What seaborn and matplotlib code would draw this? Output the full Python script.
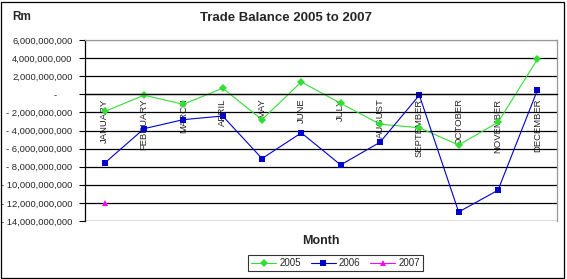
import matplotlib
matplotlib.use("Agg")
import matplotlib.pyplot as plt
import matplotlib.ticker as mticker
from matplotlib.patches import Rectangle
import numpy as np
import pandas as pd
import seaborn as sns

months = ["JANUARY", "FEBRUARY", "MARCH", "APRIL", "MAY", "JUNE", "JULY",
          "AUGUST", "SEPTEMBER", "OCTOBER", "NOVEMBER", "DECEMBER"]
y2005 = [-1.9e9, -0.1e9, -1.1e9, 0.67e9, -2.8e9, 1.37e9, -1.0e9,
         -3.3e9, -3.7e9, -5.6e9, -3.1e9, 3.86e9]
y2006 = [-7.6e9, -3.8e9, -2.8e9, -2.4e9, -7.1e9, -4.26e9, -7.8e9,
         -5.3e9, -0.1e9, -13.0e9, -10.6e9, 0.44e9]
y2007 = [-12.0e9] + [np.nan] * 11
years = ["2005", "2006", "2007"]
yticks = list(range(-14, 7, 2))

rows = []
for yr, vals in zip(years, [y2005, y2006, y2007]):
    for i, (m, v) in enumerate(zip(months, vals)):
        rows.append({"idx": i, "Month": m, "Year": yr, "Value": v})
df = pd.DataFrame(rows).dropna()

sns.set_style("white")
plt.rcParams["font.family"] = ["Liberation Sans", "DejaVu Sans"]

fig = plt.figure(figsize=(5.67, 2.79), dpi=100)
ax = fig.add_axes([85 / 567, 1 - 221 / 279, 472 / 567, 181 / 279])

palette = {"2005": "#33dd33", "2006": "#0000cc", "2007": "#ff00ff"}
markers = {"2005": "D", "2006": "s", "2007": "^"}
sns.lineplot(data=df, x="idx", y="Value", hue="Year", style="Year",
             palette=palette, markers=markers, dashes=False, sort=False,
             linewidth=0.8, markersize=4.5, markeredgewidth=0, ax=ax,
             legend=True, estimator=None)

ax.spines["bottom"].set_position(("data", 0))

ax.set_xlim(-0.5, 11.5)
ax.set_ylim(-14e9, 6e9)
ax.set_yticks([v * 1e9 for v in yticks])

def fmt(v, pos):
    if abs(v) < 1:
        return "-      "
    if v < 0:
        return "- " + "{:,.0f}".format(-v)
    return "{:,.0f}".format(v)

ax.yaxis.set_major_formatter(mticker.FuncFormatter(fmt))
ax.yaxis.grid(True, color="black", linewidth=0.9)
ax.set_axisbelow(True)
for gl, v in zip(ax.get_ygridlines(), yticks):
    if v == 6:
        gl.set_color("#999999")

ax.set_xticks(range(len(months)))
ax.set_xticklabels(months)
ax.set_xticks(np.arange(-0.5, 12, 1), minor=True)
ax.tick_params(axis="x", which="major", length=0, pad=3, labelrotation=90, labelsize=6.8)
ax.tick_params(axis="x", which="minor", length=3, direction="out", color="black", width=0.8)
ax.tick_params(axis="y", which="major", length=4, direction="out", left=True,
               labelsize=6.8, pad=5, color="black", width=0.8)
for lab in ax.get_xticklabels():
    lab.set_va("top")
    lab.set_ha("center")

ax.spines["bottom"].set_color("black")
ax.spines["bottom"].set_linewidth(0.9)
ax.spines["left"].set_color("black")
ax.spines["left"].set_linewidth(0.9)
ax.spines["top"].set_color("#999999")
ax.spines["right"].set_color("#999999")
ax.spines["top"].set_linewidth(0.9)
ax.spines["right"].set_linewidth(0.9)
ax.set_xlabel("")
ax.set_ylabel("")

fig.text(286 / 567, 1 - 18 / 279, "Trade Balance 2005 to 2007", ha="center",
         va="center", fontsize=9.5, fontweight="bold")
fig.text(12 / 567, 1 - 17 / 279, "Rm", ha="left", va="center",
         fontsize=8.5, fontweight="bold")
fig.text(321 / 567, 1 - 241 / 279, "Month", ha="center", va="center",
         fontsize=9, fontweight="bold")

handles, labels = ax.get_legend_handles_labels()
ax.legend_.remove()
leg = fig.legend(handles, labels, loc="center", bbox_to_anchor=(335.5 / 567, 1 - 263 / 279),
                 ncol=3, fontsize=7, frameon=True, fancybox=False, edgecolor="black",
                 handlelength=2.6, handletextpad=0.3, columnspacing=1.0,
                 borderpad=0.35, borderaxespad=0)
leg.get_frame().set_linewidth(0.8)

fig.patches.append(Rectangle((0.5 / 567, 1.5 / 279), 563.5 / 567, 276 / 279,
                             transform=fig.transFigure, fill=False,
                             edgecolor="black", linewidth=0.9))

fig.savefig("out.png", dpi=100)
